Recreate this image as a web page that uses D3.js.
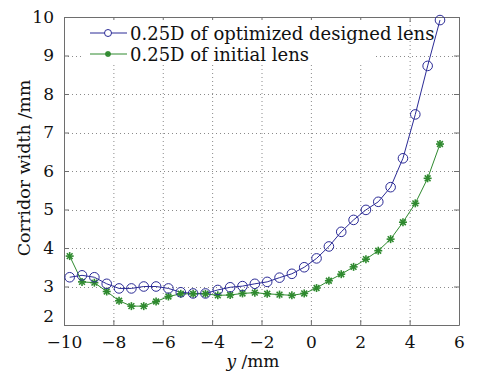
<!DOCTYPE html>
<html><head><meta charset="utf-8">
<script src="https://cdn.jsdelivr.net/npm/d3@7"></script>
<style>
html,body{margin:0;padding:0;background:#fff;}
text{font-family:"DejaVu Serif",serif;fill:#111;}
</style></head>
<body><svg id="c" width="478" height="374"></svg>
<script>
const yPos = [-9.77,-9.27,-8.77,-8.27,-7.77,-7.27,-6.77,-6.27,-5.77,-5.27,-4.77,-4.27,-3.77,-3.27,-2.77,-2.27,-1.77,-1.27,-0.77,-0.27,0.23,0.73,1.23,1.73,2.23,2.73,3.23,3.73,4.23,4.73,5.23];
const optimized = [3.24,3.29,3.24,3.07,2.95,2.95,3.00,3.00,2.95,2.85,2.82,2.82,2.91,2.98,3.01,3.07,3.12,3.23,3.33,3.50,3.73,4.04,4.42,4.73,4.99,5.20,5.58,6.33,7.47,8.73,9.92];
const initial = [3.79,3.12,3.10,2.87,2.63,2.49,2.49,2.61,2.74,2.81,2.81,2.81,2.77,2.78,2.82,2.84,2.81,2.79,2.77,2.82,2.96,3.15,3.32,3.51,3.71,3.93,4.23,4.67,5.16,5.81,6.70];
const xTicks = [-10,-8,-6,-4,-2,0,2,4,6];
const yTicks = [2,3,4,5,6,7,8,9,10];
const seriesNames = ["0.25D of optimized designed lens","0.25D of initial lens"];

const svg = d3.select("#c");
const L=64,R=459,T=17,B=325;
const x = d3.scaleLinear().domain([-10,6]).range([L,R]);
const y = d3.scaleLinear().domain([2,10]).range([B,T]);
const axisCol="#6e6e6e", gridCol="#8a8a8a";

// grid
const g = svg.append("g");
g.selectAll(".vg").data(xTicks.slice(1,-1)).enter().append("line")
 .attr("x1",d=>x(d)+0.5).attr("x2",d=>x(d)+0.5).attr("y1",T).attr("y2",B)
 .attr("stroke",gridCol).attr("stroke-width",1).attr("stroke-dasharray","1,3");
g.selectAll(".hg").data(yTicks.slice(1,-1)).enter().append("line")
 .attr("y1",d=>Math.round(y(d))+0.5).attr("y2",d=>Math.round(y(d))+0.5).attr("x1",L).attr("x2",R)
 .attr("stroke",gridCol).attr("stroke-width",1).attr("stroke-dasharray","1,3");

// axes
const fmt = d=> d<0 ? "\u2212"+Math.abs(d) : String(d);
const xa = svg.append("g").attr("transform",`translate(0,${B})`)
 .call(d3.axisBottom(x).tickValues(xTicks).tickFormat(fmt).tickSizeInner(-5).tickSizeOuter(0).tickPadding(11));
const xt = svg.append("g").attr("transform",`translate(0,${T})`)
 .call(d3.axisTop(x).tickValues(xTicks).tickFormat("").tickSizeInner(-5).tickSizeOuter(0));
const ya = svg.append("g").attr("transform",`translate(${L},0)`)
 .call(d3.axisLeft(y).tickValues(yTicks).tickFormat(fmt).tickSizeInner(-5).tickSizeOuter(0).tickPadding(10));
const yr = svg.append("g").attr("transform",`translate(${R},0)`)
 .call(d3.axisRight(y).tickValues(yTicks).tickFormat("").tickSizeInner(-5).tickSizeOuter(0));
[xa,xt,ya,yr].forEach(a=>{
  a.select(".domain").attr("stroke",axisCol);
  a.selectAll(".tick line").attr("stroke",axisCol);
  a.selectAll("text").attr("font-family","DejaVu Serif").attr("font-size",17).attr("fill","#111");
});
ya.selectAll(".tick").filter(d=>d===2).select("text").attr("dy","-0.2em");

// lines
const line = d3.line().x((d,i)=>x(yPos[i])).y(d=>y(d));
const blue="#2b2b96", green="#2f8a2f";
svg.append("path").datum(optimized).attr("d",line).attr("fill","none").attr("stroke",blue).attr("stroke-width",1);
svg.append("path").datum(initial).attr("d",line).attr("fill","none").attr("stroke",green).attr("stroke-width",1);

function star(sel,cx,cy,col,r){
  const gg = sel.append("g").attr("stroke",col).attr("stroke-width",1.6);
  gg.append("line").attr("x1",cx-r).attr("x2",cx+r).attr("y1",cy).attr("y2",cy);
  gg.append("line").attr("x1",cx).attr("x2",cx).attr("y1",cy-r).attr("y2",cy+r);
  const k=r*0.72;
  gg.append("line").attr("x1",cx-k).attr("x2",cx+k).attr("y1",cy-k).attr("y2",cy+k);
  gg.append("line").attr("x1",cx-k).attr("x2",cx+k).attr("y1",cy+k).attr("y2",cy-k);
}
const mk = svg.append("g");
initial.forEach((v,i)=>star(mk,x(yPos[i]),y(v),green,4));
mk.selectAll(".c").data(optimized).enter().append("circle")
 .attr("cx",(d,i)=>x(yPos[i])).attr("cy",d=>y(d)).attr("r",4.8)
 .attr("fill","none").attr("stroke",blue).attr("stroke-width",1);

// legend
const lg = svg.append("g");
lg.append("rect").attr("x",82).attr("y",20).attr("width",294).attr("height",45).attr("fill","#fff");
const rows=[{y:33,col:blue,type:"c"},{y:54,col:green,type:"s"}];
rows.forEach((r,i)=>{
  lg.append("line").attr("x1",90).attr("x2",127).attr("y1",r.y).attr("y2",r.y).attr("stroke",r.col).attr("stroke-width",1);
  if(r.type==="c") lg.append("circle").attr("cx",108).attr("cy",r.y).attr("r",3.5).attr("fill","#fff").attr("stroke",r.col);
  else star(lg,108,r.y,r.col,3);
  lg.append("text").attr("x",130).attr("y",r.y+6.5).attr("font-size",18).text(seriesNames[i]);
});

// titles
svg.append("text").attr("x",253).attr("y",367).attr("text-anchor","middle").attr("font-size",17)
 .html('<tspan font-style="italic">y</tspan> /mm');
svg.append("text").attr("transform","translate(30,168) rotate(-90)").attr("text-anchor","middle").attr("font-size",17.5)
 .text("Corridor width /mm");
</script></body></html>
